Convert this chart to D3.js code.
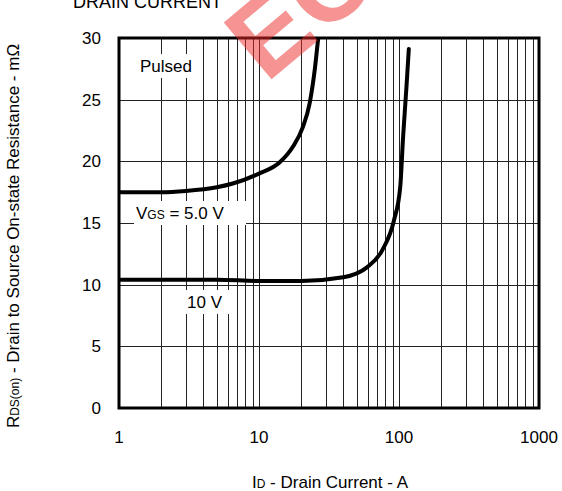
<!DOCTYPE html>
<html>
<head>
<meta charset="utf-8">
<script src="https://d3js.org/d3.v7.min.js"></script>
<style>
  body { margin: 0; background: #fff; }
  text { font-family: "Liberation Sans", Arial, sans-serif; fill: #000; }
</style>
</head>
<body>
<script>
// drain current (A) vs on-resistance (mOhm)
var id5 = [1, 2, 3, 5, 6.5, 10, 14, 17.5, 20.6, 23, 25, 26.5, 27.2];
var rds5 = [17.5, 17.5, 17.6, 17.9, 18.2, 19.0, 19.9, 21.2, 22.8, 24.7, 27.4, 30, 31];
var id10 = [1, 5, 10, 20, 40, 59, 76, 92, 102, 107, 113, 117.5];
var rds10 = [10.4, 10.4, 10.3, 10.3, 10.6, 11.4, 12.8, 15.2, 17.9, 22, 26, 29.1];
var xTicks = [1, 10, 100, 1000];
var yTicks = [0, 5, 10, 15, 20, 25, 30];

var W = 562, H = 491;
var m = { left: 119, right: 23, top: 38, bottom: 83 };

var svg = d3.select("body").append("svg")
    .attr("width", W)
    .attr("height", H);

var x = d3.scaleLog().domain([1, 1000]).range([m.left, W - m.right]);
var y = d3.scaleLinear().domain([0, 30]).range([H - m.bottom, m.top]);

// title (clipped at top)
svg.append("text")
    .attr("x", 73).attr("y", 8)
    .style("font-size", "18px")
    .text("DRAIN CURRENT");

var clipId = "plotclip";
svg.append("clipPath").attr("id", clipId)
  .append("rect")
    .attr("x", m.left).attr("y", m.top)
    .attr("width", W - m.right - m.left)
    .attr("height", H - m.bottom - m.top);

var grid = svg.append("g");

// vertical log grid
var minor = [];
for (var d = 1; d < 1000; d *= 10) {
    for (var k = 1; k <= 10; k++) minor.push(d * k);
}
grid.selectAll("line.v")
    .data(minor)
    .enter().append("line")
    .attr("class", "v")
    .attr("x1", function(v) { return Math.round(x(v)) + 0.5; })
    .attr("x2", function(v) { return Math.round(x(v)) + 0.5; })
    .attr("y1", y(30)).attr("y2", y(0))
    .attr("stroke", "#222").attr("stroke-width", 1);

grid.selectAll("line.h")
    .data(yTicks)
    .enter().append("line")
    .attr("class", "h")
    .attr("x1", x(1)).attr("x2", x(1000))
    .attr("y1", function(v) { return Math.round(y(v)) + 0.5; })
    .attr("y2", function(v) { return Math.round(y(v)) + 0.5; })
    .attr("stroke", "#222").attr("stroke-width", 1);

// label boxes that hide gridlines
function label(cx, cy, w, h) {
    svg.append("rect")
        .attr("x", cx - w / 2).attr("y", cy - h / 2)
        .attr("width", w).attr("height", h)
        .attr("fill", "#fff");
}
label(164, 66, 56, 24);
label(190, 213, 112, 24);
label(207, 302, 48, 24);

svg.append("text").attr("x", 140).attr("y", 72)
    .style("font-size", "17px").text("Pulsed");

var vgs = svg.append("text").attr("x", 136).attr("y", 219).style("font-size", "17px");
vgs.append("tspan").text("V");
vgs.append("tspan").style("font-size", "12px").text("GS");
vgs.append("tspan").text(" = 5.0 V");

svg.append("text").attr("x", 187).attr("y", 308)
    .style("font-size", "17px").text("10 V");

// curves
var line = d3.line()
    .x(function(p) { return x(p[0]); })
    .y(function(p) { return y(p[1]); })
    .curve(d3.curveMonotoneX);

var curves = svg.append("g").attr("clip-path", "url(#" + clipId + ")");
curves.append("path")
    .attr("d", line(d3.zip(id5, rds5)))
    .attr("fill", "none").attr("stroke", "#000")
    .attr("stroke-width", 4).attr("stroke-linecap", "round");
curves.append("path")
    .attr("d", line(d3.zip(id10, rds10)))
    .attr("fill", "none").attr("stroke", "#000")
    .attr("stroke-width", 4).attr("stroke-linecap", "round");

// frame
svg.append("rect")
    .attr("x", x(1)).attr("y", y(30))
    .attr("width", x(1000) - x(1)).attr("height", y(0) - y(30))
    .attr("fill", "none").attr("stroke", "#000").attr("stroke-width", 3);

// watermark
svg.append("text")
    .attr("transform", "translate(266,84) rotate(-40)")
    .style("font-size", "108px")
    .style("font-weight", "bold")
    .style("fill", "#ee2a2a")
    .style("opacity", 0.5)
    .text("EC");

// tick labels
svg.selectAll("text.xt")
    .data(xTicks)
    .enter().append("text")
    .attr("class", "xt")
    .attr("x", function(v) { return x(v); })
    .attr("y", 443)
    .attr("text-anchor", "middle")
    .style("font-size", "17px")
    .text(function(v) { return v; });

svg.selectAll("text.yt")
    .data(yTicks)
    .enter().append("text")
    .attr("class", "yt")
    .attr("x", 101)
    .attr("y", function(v) { return y(v) + 6; })
    .attr("text-anchor", "end")
    .style("font-size", "17px")
    .text(function(v) { return v; });

// axis titles
var xt = svg.append("text")
    .attr("x", 330).attr("y", 488)
    .attr("text-anchor", "middle")
    .style("font-size", "17px");
xt.append("tspan").text("I");
xt.append("tspan").style("font-size", "12px").text("D");
xt.append("tspan").text(" - Drain Current - A");

var yt = svg.append("text")
    .attr("transform", "translate(19,236) rotate(-90)")
    .attr("text-anchor", "middle")
    .style("font-size", "17px");
yt.append("tspan").text("R");
yt.append("tspan").style("font-size", "12px").text("DS(on)");
yt.append("tspan").text(" - Drain to Source On-state Resistance - m\u03A9");
</script>
</body>
</html>
